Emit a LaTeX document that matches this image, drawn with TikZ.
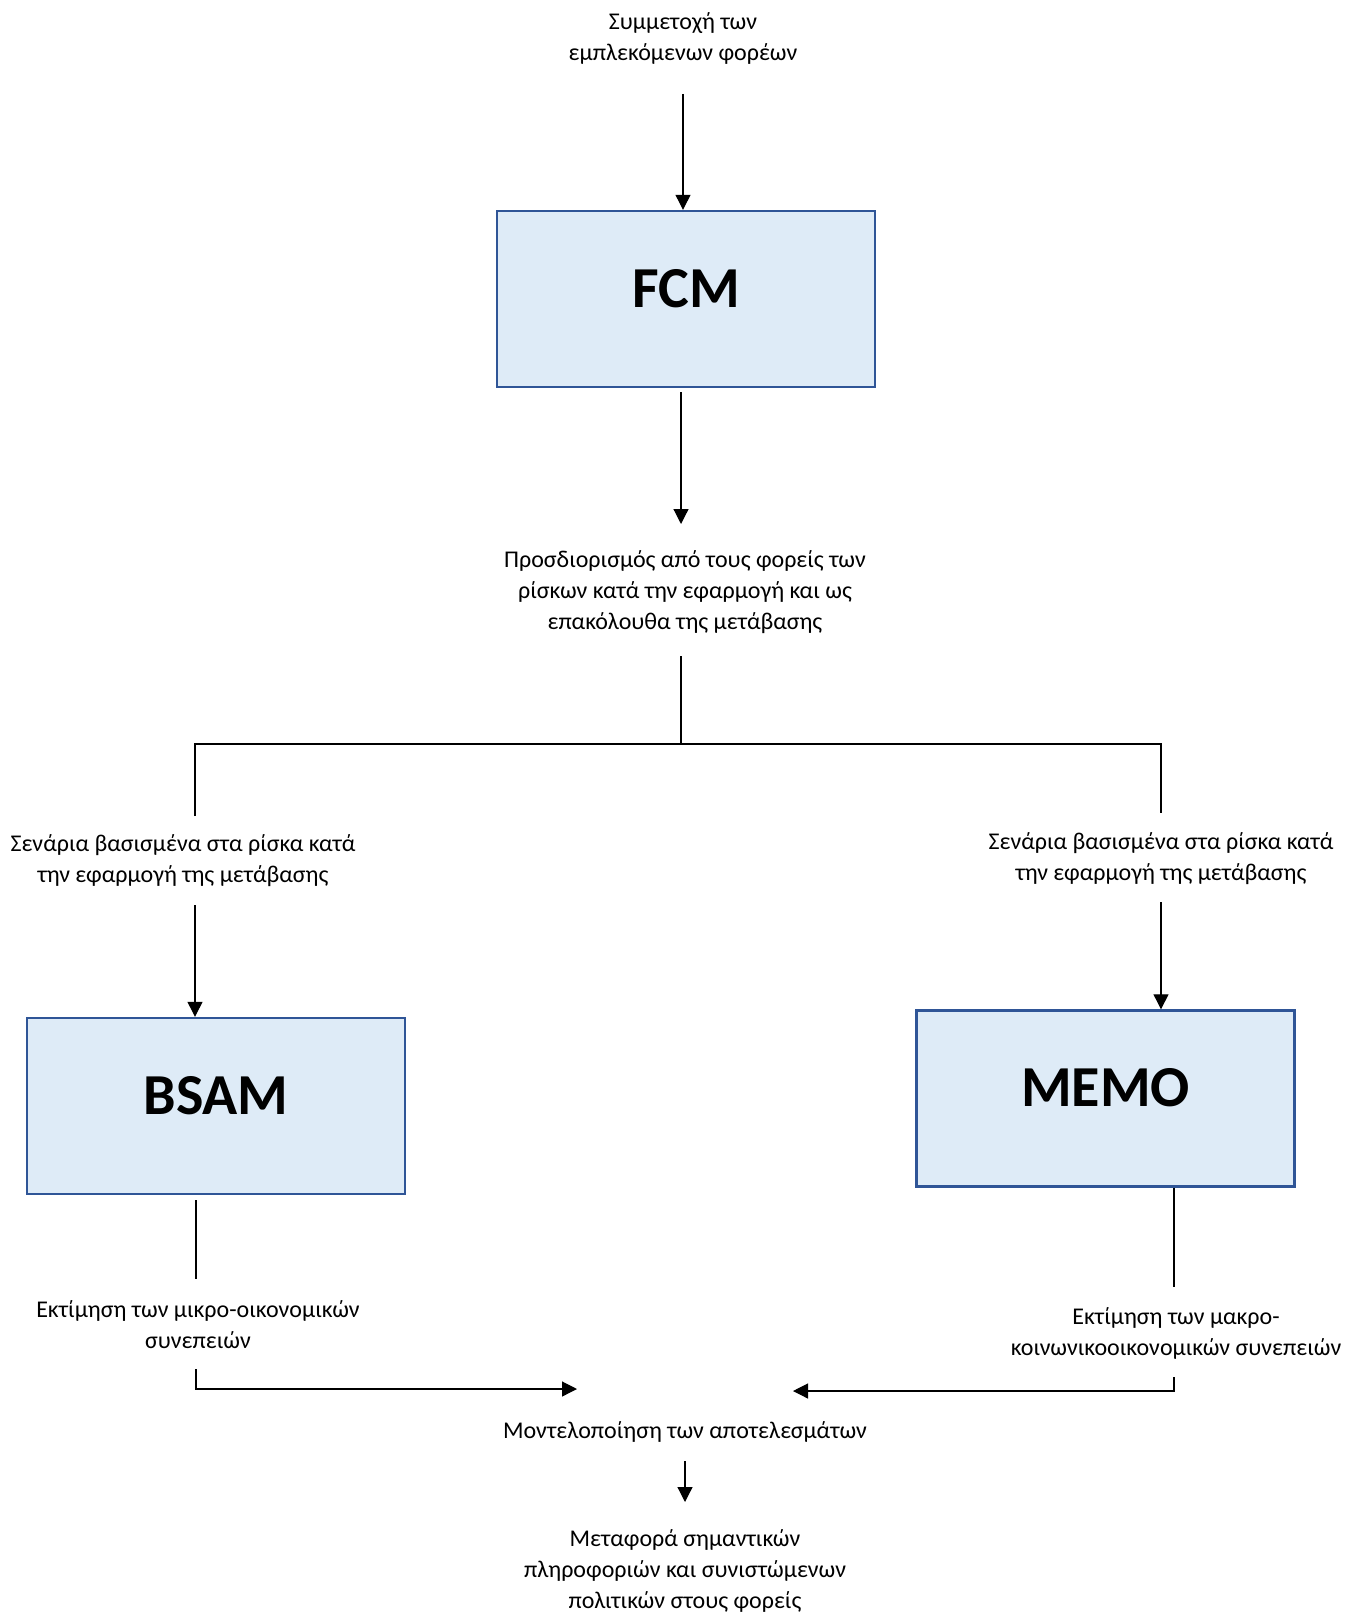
\documentclass[tikz,border=0pt]{standalone}
\usepackage{fontspec}
\setmainfont{Carlito}
\usetikzlibrary{arrows.meta}

\definecolor{boxblue}{HTML}{2F5597}
\definecolor{boxfill}{HTML}{DEEBF7}

\tikzset{
    model/.style={draw=boxblue, fill=boxfill, line width=2.4pt, minimum width=378pt, minimum height=176pt, font=\fontsize{58}{70}\selectfont\bfseries, text depth=22pt},
    note/.style={align=center, inner sep=0pt, font=\fontsize{24}{31}\selectfont},
    link/.style={line width=1.2pt},
    arr/.style={line width=1.2pt, -{Triangle[width=15pt,length=15pt]}},
}

\begin{document}
\begin{tikzpicture}[x=1pt, y=-1pt]
    \useasboundingbox (0,0) rectangle (1346,1613);

    \node[note] (top) at (683,38) {Συμμετοχή των\\εμπλεκόμενων φορέων};
    \node[model] (fcm) at (686,299) {FCM};
    \node[note] (risk) at (685,592) {Προσδιορισμός από τους φορείς των\\ρίσκων κατά την εφαρμογή και ως\\επακόλουθα της μετάβασης};
    \node[note] (scenl) at (183,861) {Σενάρια βασισμένα στα ρίσκα κατά\\την εφαρμογή της μετάβασης};
    \node[note] (scenr) at (1161,859) {Σενάρια βασισμένα στα ρίσκα κατά\\την εφαρμογή της μετάβασης};
    \node[model] (bsam) at (216,1106) {BSAM};
    \node[model] (memo) at (1105.5,1098.5) {MEMO};
    \node[note] (micro) at (198,1325) {Εκτίμηση των μικρο-οικονομικών\\συνεπειών};
    \node[note] (macro) at (1176,1333) {Εκτίμηση των μακρο-\\κοινωνικοοικονομικών συνεπειών};
    \node[note] (result) at (685,1432) {Μοντελοποίηση των αποτελεσμάτων};
    \node[note] (transfer) at (685,1571) {Μεταφορά σημαντικών\\πληροφοριών και συνιστώμενων\\πολιτικών στους φορείς};

    \coordinate (split) at (681,744);
    \coordinate (inl) at (577,1389);
    \coordinate (inr) at (793,1391);

    \draw[arr] (top.south |- 0,94) -- (top.south |- fcm.north);
    \draw[arr, shorten <=4pt] (split |- fcm.south) -- (split |- 0,524);
    \draw[link] (split |- 0,656) -- (split);
    \draw[link] (195,816) |- (split) -| (1161,813);
    \draw[arr] (195,905) -- (bsam.north -| 195,0);
    \draw[arr] (1161,902) -- (memo.north -| 1161,0);
    \draw[link, shorten <=5pt] (bsam.south -| 196,0) -- (196,1279);
    \draw[link] (memo.south -| 1174,0) -- (1174,1287);
    \draw[arr] (196,1369) |- (inl);
    \draw[arr] (1174,1377) |- (inr);
    \draw[arr] (result.south |- 0,1461) -- (result.south |- 0,1502);
\end{tikzpicture}
\end{document}
